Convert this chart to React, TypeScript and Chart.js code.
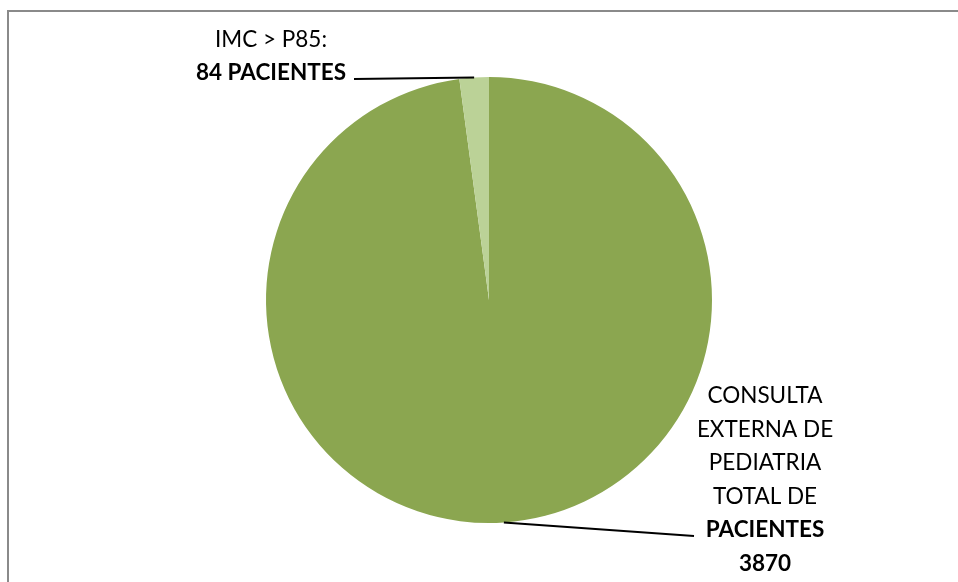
import React, { useEffect, useRef } from "react";
import { Chart, registerables } from "chart.js";

Chart.register(...registerables);

const categories = ["CONSULTA EXTERNA DE PEDIATRIA TOTAL DE PACIENTES", "IMC > P85"];
const values = [3870, 84];
const colors = ["#8BA650", "#BBD297"];
const bigLabelLines = ["CONSULTA", "EXTERNA DE", "PEDIATRIA", "TOTAL DE"];
const bigLabelBold = ["PACIENTES", "3870"];
const smallLabelLines = ["IMC > P85:"];
const smallLabelBold = ["84 PACIENTES"];

const FONT = "Lato, 'Open Sans', sans-serif";
const SIZE = 22.5;

const labelPlugin = {
  id: "labels",
  afterDraw(chart: any) {
    const ctx = chart.ctx as CanvasRenderingContext2D;
    const meta = chart.getDatasetMeta(0);
    ctx.save();
    // frame
    ctx.fillStyle = "#8A8A8A";
    ctx.fillRect(7, 10, 2, chart.height - 10);
    ctx.fillRect(7, 10, chart.width - 7, 2);

    const pt = (arc: any) => {
      const mid = (arc.startAngle + arc.endAngle) / 2;
      return { x: arc.x + Math.cos(mid) * arc.outerRadius, y: arc.y + Math.sin(mid) * arc.outerRadius };
    };
    const a0 = pt(meta.data[0]);
    const a1 = pt(meta.data[1]);

    ctx.strokeStyle = "#000";
    ctx.lineWidth = 2;
    ctx.beginPath();
    ctx.moveTo(a0.x, a0.y);
    ctx.lineTo(694, 536);
    ctx.stroke();
    ctx.beginPath();
    ctx.moveTo(a1.x, a1.y);
    ctx.lineTo(354, 79);
    ctx.stroke();

    ctx.fillStyle = "#000";
    ctx.textAlign = "center";
    ctx.textBaseline = "alphabetic";
    ctx.font = `${SIZE}px ${FONT}`;
    bigLabelLines.forEach((t, i) => ctx.fillText(t, 765, 403 + i * 33.5));
    ctx.font = `bold ${SIZE}px ${FONT}`;
    bigLabelBold.forEach((t, i) => ctx.fillText(t, 765, 537 + i * 34));
    ctx.font = `${SIZE}px ${FONT}`;
    smallLabelLines.forEach((t) => ctx.fillText(t, 271, 47));
    ctx.font = `bold ${SIZE}px ${FONT}`;
    smallLabelBold.forEach((t) => ctx.fillText(t, 271, 80));
    ctx.restore();
  },
};

export default function App() {
  const ref = useRef<HTMLCanvasElement>(null);
  useEffect(() => {
    if (!ref.current) return;
    const chart = new Chart(ref.current, {
      type: "pie",
      data: {
        labels: categories,
        datasets: [{ data: values, backgroundColor: colors, borderWidth: 0 }],
      },
      options: {
        responsive: false,
        animation: false,
        layout: { padding: { top: 77, bottom: 59, left: 20, right: 0 } },
        plugins: { legend: { display: false }, tooltip: { enabled: false } },
      },
      plugins: [labelPlugin],
    });
    return () => chart.destroy();
  }, []);
  return (
    <div style={{ position: "fixed", left: 0, top: 0, width: 958, height: 582, background: "#fff" }}>
      <canvas ref={ref} width={958} height={582} style={{ width: 958, height: 582 }} />
    </div>
  );
}
